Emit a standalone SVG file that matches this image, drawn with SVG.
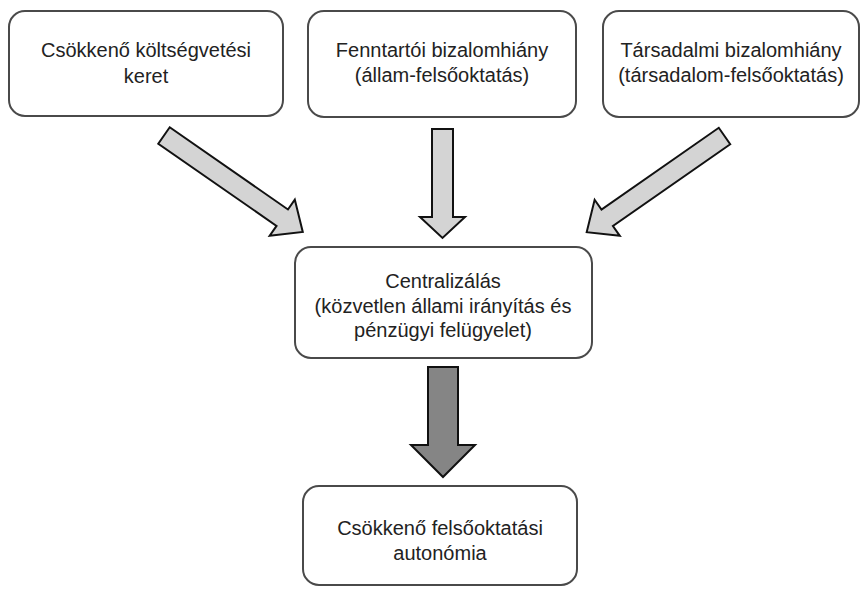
<svg xmlns="http://www.w3.org/2000/svg" width="863" height="590" viewBox="0 0 863 590">
<style>
.box{fill:#fff;stroke:#4a4a4a;stroke-width:2}
.t{font-family:"Liberation Sans",Arial,sans-serif;font-size:20px;fill:#222;text-anchor:middle}
.arr{fill:#d4d4d4;stroke:#111;stroke-width:2;stroke-linejoin:miter}
.big{fill:#858585;stroke:#111;stroke-width:2}
</style>
<rect width="863" height="590" fill="#fff"/>
<g id="connectors">
<polygon class="arr" transform="translate(164,135.5) rotate(34.8)" points="0,-10 144,-10 144,-22 169,0 144,22 144,10 0,10"/>
<polygon class="arr" points="432,129 453,129 453,217 465,217 442.5,238 420,217 432,217"/>
<polygon class="arr" transform="translate(724.5,136) rotate(145.1)" points="0,-10 143,-10 143,-22 168,0 143,22 143,10 0,10"/>
<polygon class="big" points="428,367 458,367 458,445 475,445 443,477 411,445 428,445"/>
</g>
<g id="n1">
<rect class="box" x="9" y="11" width="274" height="105" rx="16"/>
<text class="t" x="146" y="57">Csökkenő költségvetési</text>
<text class="t" x="146" y="83">keret</text>
</g>
<g id="n2">
<rect class="box" x="308" y="11" width="268" height="106" rx="16"/>
<text class="t" x="442" y="57">Fenntartói bizalomhiány</text>
<text class="t" x="442" y="82">(állam-felsőoktatás)</text>
</g>
<g id="n3">
<rect class="box" x="603" y="11" width="256" height="106" rx="16"/>
<text class="t" x="731" y="57">Társadalmi bizalomhiány</text>
<text class="t" x="731" y="82">(társadalom-felsőoktatás)</text>
</g>
<g id="n4">
<rect class="box" x="295" y="247" width="297" height="111" rx="16"/>
<text class="t" x="443" y="288">Centralizálás</text>
<text class="t" x="443" y="313">(közvetlen állami irányítás és</text>
<text class="t" x="443" y="337">pénzügyi felügyelet)</text>
</g>
<g id="n5">
<rect class="box" x="303" y="486" width="274" height="99" rx="16"/>
<text class="t" x="440" y="535">Csökkenő felsőoktatási</text>
<text class="t" x="440" y="560">autonómia</text>
</g>
</svg>
